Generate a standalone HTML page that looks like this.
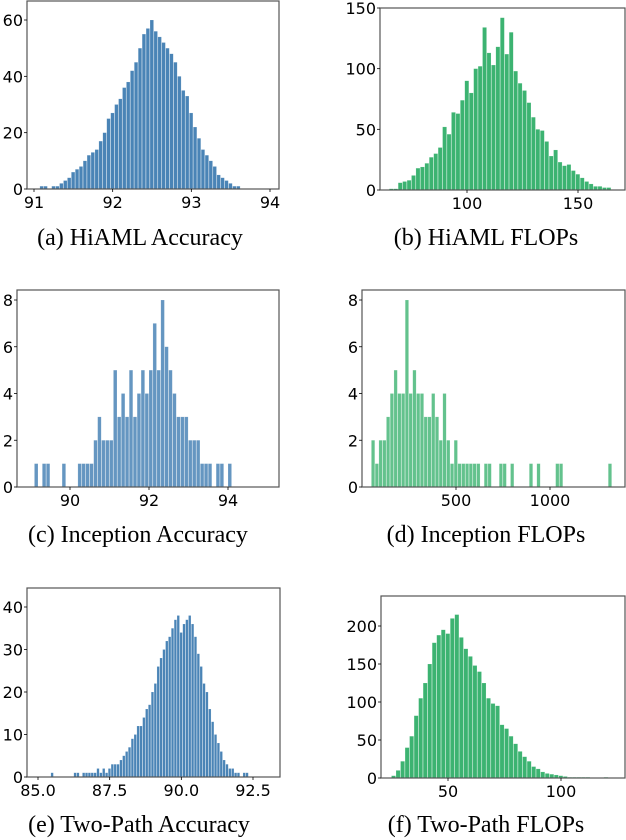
<!DOCTYPE html>
<html><head><meta charset="utf-8"><style>
html,body{margin:0;padding:0;background:#fff;}
svg{display:block;}
.tk{font-family:"DejaVu Sans","Liberation Sans",sans-serif;font-size:16px;fill:#000;}
.cap{font-family:"Liberation Serif",serif;font-size:24px;fill:#000;}
</style></head><body>
<svg id="fig" width="626" height="840" xmlns="http://www.w3.org/2000/svg"></svg>
<script>
// Panel (a) HiAML Accuracy
const aStart = 91.1, aStep = 0.05;
const aValues = [1,1,0,1,1,2,3,4,6,7,8,10,12,13,14,17,20,25,27,30,32,36,38,42,45,50,55,57,60,56,54,52,50,48,45,40,35,33,27,22,18,14,12,10,8,5,4,3,2,1,1];
const aXTicks = [91,92,93,94];
const aYTicks = [0,20,40,60];
// Panel (b) HiAML FLOPs
const bStart = 66, bStep = 2;
const bValues = [1,1,6,7,8,12,18,19,22,27,30,35,52,46,64,63,74,90,80,100,102,134,113,103,118,142,112,130,98,88,82,72,60,50,49,40,28,33,23,20,21,16,13,10,7,5,3,3,2,2];
const bXTicks = [100,150];
const bYTicks = [0,50,100,150];
// Panel (c) Inception Accuracy
const cStart = 89.05, cStep = 0.1;
const cValues = [0,1,0,1,1,0,0,0,1,0,0,0,1,1,1,1,2,3,2,2,2,5,3,4,3,5,3,4,5,4,5,7,5,8,6,5,4,3,3,3,2,2,2,1,1,1,0,1,1,0,1];
const cXTicks = [90,92,94];
const cYTicks = [0,2,4,6,8];
// Panel (d) Inception FLOPs
const dStart = 60, dStep = 20;
const dValues = [2,1,2,2,3,4,5,4,4,8,4,5,4,4,3,3,4,3,2,4,2,1,2,1,1,1,1,1,1,0,1,1,0,0,1,1,0,1,0,0,0,0,1,0,1,0,0,0,0,1,1,0,0,0,0,0,0,0,0,0,0,0,0,1,0];
const dXTicks = [500,1000];
const dYTicks = [0,2,4,6,8];
// Panel (e) Two-Path Accuracy
const eStart = 85.5, eStep = 0.1;
const eValues = [1,0,0,0,0,0,0,0,1,1,0,1,1,1,1,1,2,1,2,1,2,3,3,3,4,5,6,7,9,10,12,12,14,16,17,20,22,26,28,30,32,33,35,37,38,34,36,37,38,36,33,29,26,22,20,16,13,10,8,6,4,3,2,2,1,1,0,1,1];
const eXTicks = [85.0,87.5,90.0,92.5];
const eYTicks = [0,10,20,30,40];
// Panel (f) Two-Path FLOPs
const fStart = 26, fStep = 2;
const fValues = [3,10,22,40,55,82,105,125,150,178,188,195,190,210,215,185,170,160,148,140,125,105,98,95,70,65,55,45,35,28,22,15,12,8,6,5,4,3,2,1,1,1,1,1,0,0,0,1];
const fXTicks = [50,100];
const fYTicks = [0,50,100,150,200];

const NS = "http://www.w3.org/2000/svg";
const svg = document.getElementById('fig');
function mk(tag, attrs, parent){ const e=document.createElementNS(NS,tag); for(const k in attrs) e.setAttribute(k,attrs[k]); (parent||svg).appendChild(e); return e; }

function panel(id, box, xm, ym, start, step, values, xt, yt, fmt, color, caption, capX, capY){
  const g = mk('g',{});
  
  
  const X = v => xm[1] + (v - xm[0]) * (xm[3] - xm[1]) / (xm[2] - xm[0]);
  const Y = v => ym[1] + (v - ym[0]) * (ym[3] - ym[1]) / (ym[2] - ym[0]);
  for (let i = 0; i < values.length; i++) {
    if (!values[i]) continue;
    const x0 = X(start + i*step - step/2), x1 = X(start + i*step + step/2);
    const y = Y(values[i]), y0 = Y(0);
    const r = mk('rect',{x:x0, y:y, width:Math.max(0.8, x1-x0-0.4), height:y0-y, fill:color, stroke:'rgba(255,255,255,0.35)', 'stroke-width':0.4}, g);
    
    
  }
  const fr = mk('rect',{x:box[0], y:box[1], width:box[2]-box[0], height:box[3]-box[1], fill:'none', stroke:'#555', 'stroke-width':1.2}, g);
  
  
  xt.forEach(v => {
    const t = mk('text',{x:X(v), y:box[3]+19, 'text-anchor':'middle', class:'tk'}, g);
    t.textContent = fmt(v);
    
    
    mk('line',{x1:X(v),x2:X(v),y1:box[3],y2:box[3]+3,stroke:'#000','stroke-width':0.8}, g);
  });
  yt.forEach(v => {
    const t = mk('text',{x:box[0]-4, y:Y(v)+6, 'text-anchor':'end', class:'tk'}, g);
    t.textContent = String(v);
    
    
    mk('line',{x1:box[0]-3,x2:box[0],y1:Y(v),y2:Y(v),stroke:'#000','stroke-width':0.8}, g);
  });
  const c = mk('text',{x:capX, y:capY, 'text-anchor':'middle', class:'cap'}, g);
  c.textContent = caption;
  
  
}
const blue = '#4a84b6', green = '#3cb371';
const f0 = v => String(v), f1 = v => v.toFixed(1);
panel('a',[27,1,279,189],[91,34,94,270],[0,189,60,20],aStart,aStep,aValues,aXTicks,aYTicks,f0,blue,'(a) HiAML Accuracy',140,245);
panel('b',[380,8,625,190],[100,467,150,578],[0,190,150,8],bStart,bStep,bValues,bXTicks,bYTicks,f0,green,'(b) HiAML FLOPs',486,245);
panel('c',[17,290,279,487],[90,70,94,228],[0,487,8,300],cStart,cStep,cValues,cXTicks,cYTicks,f0,'rgba(74,132,182,0.85)','(c) Inception Accuracy',138,542);
panel('d',[362,290,625,487],[500,456,1000,550],[0,487,8,300],dStart,dStep,dValues,dXTicks,dYTicks,f0,'rgba(60,179,113,0.8)','(d) Inception FLOPs',486,542);
panel('e',[27,588,280,777],[85,38,92.5,253],[0,777,40,607],eStart,eStep,eValues,eXTicks,eYTicks,f1,blue,'(e) Two-Path Accuracy',139,832);
panel('f',[381,596,625,778],[50,448,100,561],[0,778,200,626],fStart,fStep,fValues,fXTicks,fYTicks,f0,green,'(f) Two-Path FLOPs',486,832);
</script>
</body></html>
